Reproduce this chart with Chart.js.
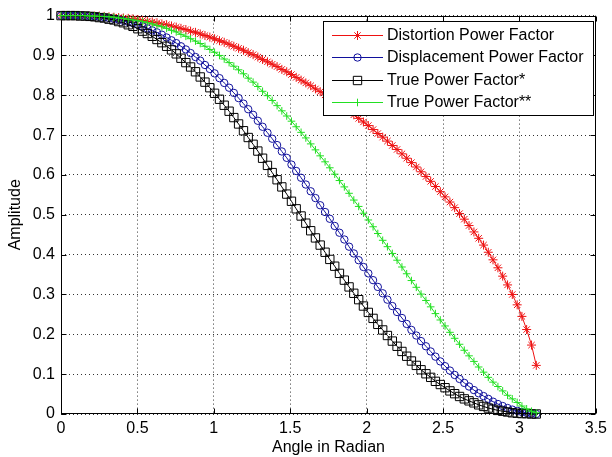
<!DOCTYPE html>
<html>
<head>
    <meta charset="utf-8">
    <title>Power Factor vs Angle</title>
    <script src="https://cdn.jsdelivr.net/npm/chart.js"></script>
    <style>
        html, body { margin: 0; padding: 0; background: #fff; }
    </style>
</head>
<body>
    <canvas id="chart" width="612" height="457"></canvas>

    <script>
        // firing angle (rad)
        var angles = [
            0.000, 0.031, 0.063, 0.094, 0.126, 0.157, 0.188, 0.220, 0.251, 0.283,
            0.314, 0.346, 0.377, 0.408, 0.440, 0.471, 0.503, 0.534, 0.565, 0.597,
            0.628, 0.660, 0.691, 0.723, 0.754, 0.785, 0.817, 0.848, 0.880, 0.911,
            0.942, 0.974, 1.005, 1.037, 1.068, 1.100, 1.131, 1.162, 1.194, 1.225,
            1.257, 1.288, 1.319, 1.351, 1.382, 1.414, 1.445, 1.477, 1.508, 1.539,
            1.571, 1.602, 1.634, 1.665, 1.696, 1.728, 1.759, 1.791, 1.822, 1.854,
            1.885, 1.916, 1.948, 1.979, 2.011, 2.042, 2.073, 2.105, 2.136, 2.168,
            2.199, 2.231, 2.262, 2.293, 2.325, 2.356, 2.388, 2.419, 2.450, 2.482,
            2.513, 2.545, 2.576, 2.608, 2.639, 2.670, 2.702, 2.733, 2.765, 2.796,
            2.827, 2.859, 2.890, 2.922, 2.953, 2.985, 3.016, 3.047, 3.079, 3.110
        ];

        var distortionPF = [
            1.000, 1.000, 1.000, 1.000, 1.000, 1.000, 0.999, 0.999, 0.999, 0.998,
            0.997, 0.996, 0.995, 0.994, 0.993, 0.992, 0.990, 0.988, 0.986, 0.984,
            0.982, 0.979, 0.977, 0.974, 0.971, 0.968, 0.965, 0.961, 0.958, 0.954,
            0.950, 0.946, 0.942, 0.937, 0.933, 0.928, 0.923, 0.918, 0.913, 0.907,
            0.902, 0.896, 0.890, 0.884, 0.878, 0.872, 0.865, 0.859, 0.852, 0.845,
            0.838, 0.831, 0.824, 0.816, 0.809, 0.801, 0.793, 0.785, 0.777, 0.768,
            0.760, 0.751, 0.742, 0.733, 0.724, 0.714, 0.704, 0.695, 0.685, 0.674,
            0.664, 0.653, 0.642, 0.631, 0.620, 0.608, 0.596, 0.584, 0.571, 0.558,
            0.545, 0.532, 0.518, 0.503, 0.489, 0.473, 0.457, 0.441, 0.424, 0.406,
            0.387, 0.367, 0.346, 0.324, 0.300, 0.274, 0.245, 0.212, 0.173, 0.122
        ];

        var displacementPF = [
            1.000, 1.000, 1.000, 1.000, 1.000, 0.999, 0.999, 0.998, 0.997, 0.996,
            0.994, 0.992, 0.990, 0.987, 0.984, 0.981, 0.977, 0.973, 0.968, 0.963,
            0.958, 0.952, 0.945, 0.938, 0.931, 0.923, 0.915, 0.906, 0.896, 0.887,
            0.876, 0.866, 0.855, 0.843, 0.831, 0.819, 0.806, 0.793, 0.779, 0.765,
            0.751, 0.736, 0.721, 0.706, 0.691, 0.675, 0.659, 0.643, 0.626, 0.610,
            0.593, 0.576, 0.559, 0.542, 0.524, 0.507, 0.490, 0.472, 0.455, 0.438,
            0.420, 0.403, 0.386, 0.369, 0.353, 0.336, 0.319, 0.303, 0.287, 0.271,
            0.256, 0.241, 0.226, 0.211, 0.197, 0.183, 0.170, 0.157, 0.144, 0.132,
            0.120, 0.109, 0.098, 0.088, 0.078, 0.069, 0.060, 0.052, 0.045, 0.038,
            0.031, 0.025, 0.020, 0.015, 0.011, 0.008, 0.005, 0.003, 0.001, 0.000
        ];

        var truePF1 = [
            1.000, 1.000, 1.000, 1.000, 0.999, 0.999, 0.998, 0.997, 0.995, 0.994,
            0.991, 0.989, 0.985, 0.982, 0.977, 0.973, 0.967, 0.961, 0.955, 0.948,
            0.940, 0.932, 0.923, 0.914, 0.904, 0.893, 0.882, 0.871, 0.859, 0.846,
            0.833, 0.819, 0.805, 0.790, 0.775, 0.760, 0.744, 0.728, 0.711, 0.694,
            0.677, 0.660, 0.642, 0.624, 0.606, 0.588, 0.570, 0.552, 0.534, 0.515,
            0.497, 0.479, 0.460, 0.442, 0.424, 0.406, 0.388, 0.371, 0.353, 0.336,
            0.319, 0.303, 0.287, 0.271, 0.255, 0.240, 0.225, 0.211, 0.197, 0.183,
            0.170, 0.157, 0.145, 0.133, 0.122, 0.111, 0.101, 0.092, 0.082, 0.074,
            0.066, 0.058, 0.051, 0.044, 0.038, 0.033, 0.028, 0.023, 0.019, 0.015,
            0.012, 0.009, 0.007, 0.005, 0.003, 0.002, 0.001, 0.001, 0.000, 0.000
        ];

        var truePF2 = [
            1.000, 1.000, 1.000, 1.000, 1.000, 1.000, 0.999, 0.999, 0.998, 0.998,
            0.997, 0.996, 0.994, 0.993, 0.991, 0.989, 0.987, 0.985, 0.982, 0.979,
            0.975, 0.972, 0.968, 0.963, 0.959, 0.953, 0.948, 0.942, 0.936, 0.930,
            0.923, 0.915, 0.908, 0.900, 0.891, 0.882, 0.873, 0.864, 0.854, 0.843,
            0.833, 0.822, 0.810, 0.799, 0.787, 0.774, 0.761, 0.748, 0.735, 0.721,
            0.707, 0.693, 0.678, 0.663, 0.648, 0.633, 0.618, 0.602, 0.586, 0.570,
            0.554, 0.537, 0.521, 0.504, 0.487, 0.470, 0.453, 0.436, 0.420, 0.403,
            0.386, 0.369, 0.352, 0.335, 0.318, 0.301, 0.285, 0.269, 0.252, 0.236,
            0.221, 0.205, 0.190, 0.175, 0.160, 0.146, 0.132, 0.118, 0.105, 0.092,
            0.080, 0.069, 0.058, 0.047, 0.038, 0.029, 0.020, 0.013, 0.007, 0.003
        ];

        var seriesLabels = [
            "Distortion Power Factor",
            "Displacement Power Factor",
            "True Power Factor*",
            "True Power Factor**"
        ];

        var xTickLabels = ["0", "0.5", "1", "1.5", "2", "2.5", "3", "3.5"];
        var yTickLabels = ["0", "0.1", "0.2", "0.3", "0.4", "0.5", "0.6", "0.7", "0.8", "0.9", "1"];

        var FONT = "'Liberation Sans', Arial, Helvetica, sans-serif";

        function toPoints(ys) {
            return ys.map(function (y, i) { return { x: angles[i], y: y }; });
        }

        function makeSet(idx, ys, color, style, radius, order) {
            return {
                label: seriesLabels[idx],
                data: toPoints(ys),
                borderColor: color,
                backgroundColor: "transparent",
                borderWidth: 1,
                pointStyle: style,
                pointRadius: radius,
                pointBorderColor: color,
                pointBackgroundColor: "transparent",
                pointBorderWidth: 1,
                tension: 0,
                fill: false,
                clip: 10,
                order: order
            };
        }

        // small marker drawer for the legend
        function drawMarker(ctx, style, x, y, r) {
            ctx.beginPath();
            if (style === "circle") {
                ctx.arc(x, y, r, 0, Math.PI * 2);
            } else if (style === "rect") {
                var h = r * Math.SQRT1_2;
                ctx.rect(x - h, y - h, 2 * h, 2 * h);
            } else {
                ctx.moveTo(x - r, y); ctx.lineTo(x + r, y);
                ctx.moveTo(x, y - r); ctx.lineTo(x, y + r);
                if (style === "star") {
                    var d = r * Math.SQRT1_2;
                    ctx.moveTo(x - d, y - d); ctx.lineTo(x + d, y + d);
                    ctx.moveTo(x - d, y + d); ctx.lineTo(x + d, y - d);
                }
            }
            ctx.stroke();
        }

        // matlab style box with inward ticks
        var boxPlugin = {
            id: "boxPlugin",
            beforeDatasetsDraw: function (chart) {
                var ctx = chart.ctx, a = chart.chartArea;
                var sx = chart.scales.x, sy = chart.scales.y;
                var L = Math.round(a.left) + 0.5, R = Math.round(a.right) - 0.5;
                var T = Math.round(a.top) + 0.5, B = Math.round(a.bottom) - 0.5;
                ctx.save();
                ctx.strokeStyle = "#000";
                ctx.lineWidth = 1;
                ctx.setLineDash([]);
                ctx.strokeRect(L, T, R - L, B - T);
                ctx.beginPath();
                sx.ticks.forEach(function (t) {
                    var px = Math.round(sx.getPixelForValue(t.value)) + 0.5;
                    ctx.moveTo(px, B); ctx.lineTo(px, B - 5);
                    ctx.moveTo(px, T); ctx.lineTo(px, T + 5);
                });
                sy.ticks.forEach(function (t) {
                    var py = Math.round(sy.getPixelForValue(t.value)) + 0.5;
                    ctx.moveTo(L, py); ctx.lineTo(L + 5, py);
                    ctx.moveTo(R, py); ctx.lineTo(R - 5, py);
                });
                ctx.stroke();
                ctx.restore();
            }
        };

        // legend box drawn inside the plot, top right
        var legendPlugin = {
            id: "legendBox",
            afterDraw: function (chart) {
                var ctx = chart.ctx;
                var bx = 323.5, by = 21.5, bw = 270, bh = 94;
                ctx.save();
                ctx.fillStyle = "#fff";
                ctx.fillRect(bx, by, bw, bh);
                ctx.strokeStyle = "#000";
                ctx.lineWidth = 1;
                ctx.strokeRect(bx, by, bw, bh);
                ctx.font = "16px " + FONT;
                ctx.textBaseline = "middle";
                ctx.textAlign = "left";
                chart.data.datasets.forEach(function (ds, i) {
                    var y = Math.round(35 + i * 22.3) + 0.5;
                    ctx.strokeStyle = ds.borderColor;
                    ctx.beginPath();
                    ctx.moveTo(332, y); ctx.lineTo(383, y);
                    ctx.stroke();
                    drawMarker(ctx, ds.pointStyle, 357.5, y, ds.pointRadius);
                    ctx.fillStyle = "#000";
                    ctx.fillText(ds.label, 387, y);
                });
                ctx.restore();
            }
        };

        var chartConfig = {
            type: "line",
            data: {
                datasets: [
                    makeSet(0, distortionPF, "#ee1111", "star", 4.5, 4),
                    makeSet(1, displacementPF, "#10109c", "circle", 3.7, 3),
                    makeSet(2, truePF1, "#000000", "rect", 5.9, 2),
                    makeSet(3, truePF2, "#22e022", "cross", 3.8, 1)
                ]
            },
            options: {
                responsive: false,
                animation: false,
                events: [],
                layout: { padding: { left: 0, top: 13, right: 12, bottom: 0 } },
                plugins: {
                    legend: { display: false },
                    tooltip: { enabled: false }
                },
                scales: {
                    x: {
                        type: "linear",
                        min: 0,
                        max: 3.5,
                        afterFit: function (s) { s.height = 43; },
                        ticks: {
                            stepSize: 0.5,
                            autoSkip: false,
                            maxRotation: 0,
                            padding: 5,
                            color: "#000",
                            font: { family: FONT, size: 16 },
                            callback: function (v, i) { return xTickLabels[i]; }
                        },
                        grid: { color: "#333", lineWidth: 1, drawTicks: false },
                        border: { display: false, dash: [1, 3] },
                        title: {
                            display: true,
                            text: "Angle in Radian",
                            color: "#000",
                            font: { family: FONT, size: 16 },
                            padding: { top: 0, bottom: 0 }
                        }
                    },
                    y: {
                        min: 0,
                        max: 1,
                        afterFit: function (s) { s.width = 61; },
                        ticks: {
                            stepSize: 0.1,
                            autoSkip: false,
                            padding: 6,
                            color: "#000",
                            font: { family: FONT, size: 16 },
                            callback: function (v, i) { return yTickLabels[i]; }
                        },
                        grid: { color: "#333", lineWidth: 1, drawTicks: false },
                        border: { display: false, dash: [1, 3] },
                        title: {
                            display: true,
                            text: "Amplitude",
                            color: "#000",
                            font: { family: FONT, size: 16 },
                            padding: { top: 6, bottom: 0 }
                        }
                    }
                }
            },
            plugins: [boxPlugin, legendPlugin]
        };

        var ctx = document.getElementById("chart").getContext("2d");
        var chart = new Chart(ctx, chartConfig);
    </script>
</body>
</html>
